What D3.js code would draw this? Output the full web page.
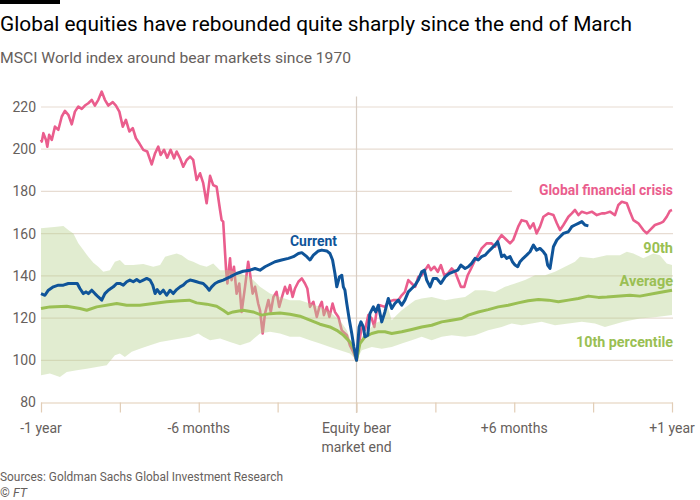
<!DOCTYPE html>
<html><head><meta charset="utf-8">
<script src="https://cdn.jsdelivr.net/npm/d3@7"></script>
<style>
html,body{margin:0;padding:0;background:#fff;}
svg{display:block;font-family:Roboto,"Open Sans",sans-serif;}
</style></head>
<body><svg id="c" width="700" height="500"></svg>
<script>
// ---- data (months relative to bear-market end, index level) ----
const xTicks = [-12,-9,-6,-3,0,3,6,9,12];
const xTickLabels = [["-12",["-1 year"]],["-6",["-6 months"]],["0",["Equity bear","market end"]],["6",["+6 months"]],["12",["+1 year"]]];
const yTicks = [80,100,120,140,160,180,200,220];

const gfc = [[-12,204.5],[-11.97,203.6],[-11.91,207.6],[-11.81,204.4],[-11.76,201.2],[-11.69,206.8],[-11.59,204.4],[-11.47,210.7],[-11.34,209.2],[-11.21,215.5],[-11.09,218.2],[-10.96,216.3],[-10.83,211.8],[-10.71,217.8],[-10.58,220.2],[-10.45,219.1],[-10.33,220.7],[-10.2,221.8],[-10.07,223.4],[-9.95,220.7],[-9.82,223.4],[-9.69,227.3],[-9.57,223.4],[-9.44,220.7],[-9.27,222.3],[-9.15,220.7],[-9.02,217.8],[-8.89,210.7],[-8.77,213.9],[-8.64,208.4],[-8.51,210],[-8.39,205.2],[-8.26,202.8],[-8.11,199.7],[-7.96,198.9],[-7.79,192.8],[-7.66,198.1],[-7.54,201.2],[-7.45,197.3],[-7.32,199.7],[-7.2,196],[-7.07,199.7],[-6.94,195.7],[-6.84,198.9],[-6.71,195.7],[-6.59,191.7],[-6.46,194.9],[-6.33,196.5],[-6.21,194.9],[-6.08,185.4],[-5.95,188.6],[-5.83,183.9],[-5.7,174.4],[-5.57,187.4],[-5.45,183],[-5.32,182.2],[-5.19,171.2],[-5.13,166.4],[-5.07,165.7],[-4.96,142.7],[-4.91,136.4],[-4.81,148.3],[-4.75,138],[-4.66,144.3],[-4.56,131.6],[-4.46,136.4],[-4.37,122.9],[-4.24,134.8],[-4.12,146.7],[-4.05,141.1],[-3.95,131.6],[-3.86,134.8],[-3.74,126.9],[-3.67,123.7],[-3.57,112.7],[-3.48,122.1],[-3.35,128.5],[-3.26,122.9],[-3.16,130],[-3.04,132.4],[-2.94,125.3],[-2.85,129.3],[-2.72,134.8],[-2.63,131.6],[-2.53,135.6],[-2.43,130],[-2.34,134],[-2.21,137.2],[-2.08,138.8],[-1.96,136.4],[-1.87,134],[-1.77,125.3],[-1.64,127.7],[-1.51,120.5],[-1.41,125.3],[-1.32,127.7],[-1.24,121.4],[-1.13,125.3],[-1.03,120.5],[-0.91,126.9],[-0.82,122.9],[-0.69,120.5],[-0.56,114.2],[-0.37,111.9],[-0.25,107.1],[-0.12,103.9],[0,100],[0.07,106.3],[0.2,115.8],[0.32,114.2],[0.45,121.4],[0.58,119.8],[0.68,115.8],[0.77,123.7],[0.89,126.1],[1.08,125.3],[1.21,127.7],[1.4,128.5],[1.59,128.5],[1.72,130.8],[1.84,132.4],[1.97,138],[2.1,136.4],[2.23,134.8],[2.35,139.5],[2.48,140.3],[2.61,142.7],[2.73,145.1],[2.83,142.7],[2.96,144.3],[3.09,141.9],[3.21,145.1],[3.34,140.3],[3.47,141.1],[3.62,143.5],[3.75,141.9],[3.87,138],[3.97,134.8],[4.1,134.8],[4.23,140.3],[4.36,143.5],[4.51,147.5],[4.63,149.8],[4.76,153],[4.95,155.4],[5.14,155.4],[5.27,153.8],[5.39,157],[5.52,159.3],[5.71,157],[5.84,155.4],[5.96,157],[6.15,163.3],[6.28,166.4],[6.47,165.7],[6.6,162.5],[6.73,164.9],[6.85,160.1],[6.98,163.3],[7.11,168],[7.3,169.6],[7.49,168.8],[7.62,164.9],[7.74,161.7],[7.87,164.1],[8.06,168],[8.19,169.6],[8.31,171.2],[8.44,168.8],[8.57,170.4],[8.76,169.6],[8.95,170.4],[9.14,168.8],[9.33,169.6],[9.45,169.6],[9.64,170.4],[9.83,168.8],[9.96,173.6],[10.09,175.1],[10.28,174.4],[10.4,170.4],[10.53,166.4],[10.72,164.9],[10.91,161.7],[11.04,160.1],[11.16,161.7],[11.35,164.1],[11.54,164.9],[11.67,165.7],[11.8,168],[11.92,170.8],[12,171.2]];

const current = [[-12,131.6],[-11.85,130.8],[-11.72,133.2],[-11.53,134.8],[-11.34,135.6],[-11.15,135.6],[-10.96,136.4],[-10.77,136.4],[-10.62,136.4],[-10.52,134],[-10.39,131.6],[-10.29,132.4],[-10.2,131.6],[-10.07,133.2],[-9.95,131.6],[-9.82,130],[-9.69,128.5],[-9.57,131.6],[-9.44,133.2],[-9.25,134.8],[-9.12,136.4],[-9,136.4],[-8.87,135.6],[-8.74,137.2],[-8.62,138],[-8.49,137.2],[-8.36,138.3],[-8.24,137.2],[-8.11,138],[-7.98,138.8],[-7.85,138],[-7.75,135.6],[-7.66,131.6],[-7.58,133.5],[-7.47,131.6],[-7.35,133.2],[-7.22,130.8],[-7.09,133.2],[-6.97,131.6],[-6.84,133.5],[-6.71,134.8],[-6.59,135.6],[-6.46,137.2],[-6.33,138],[-6.21,137.7],[-6.08,137.2],[-5.95,136.7],[-5.83,136.4],[-5.7,134.8],[-5.6,133.2],[-5.51,134.8],[-5.38,136.4],[-5.26,137.2],[-5.07,138],[-4.81,139.5],[-4.56,141.1],[-4.31,142.2],[-4.05,142.7],[-3.86,143.5],[-3.67,142.7],[-3.48,144.3],[-3.29,145.5],[-3.1,146.7],[-2.85,147.5],[-2.59,148.3],[-2.4,149.1],[-2.21,150.6],[-2.08,151],[-1.89,149.1],[-1.77,147.5],[-1.64,149.8],[-1.45,151.8],[-1.32,152.2],[-1.13,151.8],[-1.01,150.6],[-0.91,147.5],[-0.82,141.1],[-0.75,134.8],[-0.65,139.5],[-0.56,140.3],[-0.5,134.8],[-0.44,133.2],[-0.37,126.9],[-0.27,119],[-0.18,112.7],[-0.1,106.3],[0,100],[0.1,115.8],[0.17,118.2],[0.26,115.8],[0.32,111.1],[0.43,111.9],[0.51,122.1],[0.64,125.3],[0.73,122.9],[0.83,126.1],[0.96,118.2],[1.08,122.9],[1.21,129.3],[1.34,124.5],[1.46,126.9],[1.59,128.5],[1.72,126.1],[1.84,128.5],[1.97,132.4],[2.1,134],[2.23,135.6],[2.35,138],[2.48,141.9],[2.58,142.7],[2.67,138],[2.8,134.8],[2.92,138.8],[3.05,138.8],[3.21,136.4],[3.37,139.5],[3.52,141.1],[3.68,141.9],[3.85,142.7],[3.97,145.1],[4.13,143.5],[4.25,144.3],[4.38,145.9],[4.51,148.3],[4.63,147.5],[4.76,149.1],[4.89,149.8],[5.01,151.4],[5.14,153],[5.27,154.6],[5.37,156.2],[5.46,152.2],[5.52,149.1],[5.62,149.8],[5.71,148.3],[5.84,149.1],[5.93,146.7],[6.03,145.1],[6.13,144.3],[6.22,146.7],[6.34,148.3],[6.47,149.8],[6.6,151.4],[6.73,154.6],[6.85,152.2],[6.98,153],[7.11,151.4],[7.2,149.8],[7.27,145.1],[7.36,143.5],[7.49,153.8],[7.62,157],[7.74,158.5],[7.87,160.1],[8.06,160.9],[8.19,163.3],[8.31,164.1],[8.44,164.9],[8.57,165.7],[8.69,164.1],[8.82,163.7]];

const average = [[-12,124.5],[-11.66,125.3],[-11.02,125.6],[-10.52,124.5],[-10.26,123.7],[-9.88,125.3],[-9.12,126.9],[-8.74,126.1],[-8.24,126.1],[-7.73,126.9],[-7.22,127.7],[-6.71,128.2],[-6.36,128.5],[-6.08,127.2],[-5.7,126.6],[-5.32,125.6],[-5.07,123.7],[-4.88,122.1],[-4.69,122.9],[-4.31,123.7],[-3.93,122.9],[-3.61,121.4],[-3.29,122.1],[-2.91,122.4],[-2.53,121.8],[-2.15,120.9],[-1.77,119],[-1.39,117.1],[-1.01,115.8],[-0.75,114.2],[-0.5,111.9],[-0.25,108.7],[-0.1,105.5],[0,100],[0.13,107.9],[0.32,111.1],[0.58,112.7],[0.83,113.5],[1.08,113.5],[1.34,112.7],[1.72,113.5],[2.1,114.6],[2.48,115.8],[2.86,116.6],[3.24,118.2],[3.62,119],[4,119.8],[4.25,121.4],[4.63,122.9],[5.01,124],[5.39,125.3],[5.77,126.1],[6.15,127.2],[6.53,128.2],[6.92,128.8],[7.3,128.5],[7.68,127.7],[8.06,128.5],[8.44,129.3],[8.82,130.4],[9.2,129.8],[9.52,130],[10.4,130.8],[10.78,130.4],[11.42,131.9],[12,133.2]];

const pct90 = [[-12,162.5],[-11.4,163.3],[-11.15,163.6],[-10.96,161.7],[-10.77,160.1],[-10.58,155.4],[-10.39,152.2],[-10.2,149],[-10.01,146.2],[-9.82,144.3],[-9.63,141.9],[-9.38,142.7],[-9.19,146.7],[-9,147.5],[-8.81,145.1],[-8.49,145.1],[-8.11,145.6],[-7.73,144.3],[-7.47,145.1],[-7.28,149],[-7.09,149.8],[-6.84,150.6],[-6.65,149.8],[-6.4,147.5],[-6.21,146.7],[-5.95,145.1],[-5.7,144.3],[-5.45,145.9],[-5.19,142.7],[-4.81,142.7],[-4.43,141.1],[-4.05,139.5],[-3.67,134.8],[-3.29,131.6],[-2.91,130],[-2.53,128.5],[-2.15,128.5],[-1.77,126.9],[-1.39,125.3],[-1.01,122.9],[-0.63,119],[-0.37,114.2],[-0.12,106.3],[0,100],[0.2,111.1],[0.45,114.2],[0.7,117.4],[0.96,119],[1.15,126.9],[1.34,119],[1.53,121.4],[1.72,123.7],[1.97,126.1],[2.23,128.5],[2.48,129.3],[2.86,130],[3.37,128.5],[3.75,129.3],[4.13,130],[4.51,133.2],[4.89,133.2],[5.27,132.4],[5.65,134.8],[6.03,136.4],[6.41,138],[6.79,140.3],[7.17,140.3],[7.55,141.9],[7.93,144.3],[8.31,146.7],[8.5,149.1],[9.01,148.3],[9.52,149.8],[10.02,149.8],[10.28,151.4],[10.53,150.6],[10.91,148.3],[11.29,150.6],[11.54,149.8],[11.8,145.9],[12,145.1]];

const pct10 = [[-12,92.9],[-11.66,93.7],[-11.28,92.1],[-11.02,94.5],[-10.64,95.3],[-10.26,96],[-9.88,96.8],[-9.5,97.6],[-9.19,102.4],[-9,103.2],[-8.81,101.6],[-8.55,104],[-8.24,105.5],[-7.85,107.1],[-7.47,108.7],[-7.09,109.5],[-6.71,110.3],[-6.33,111.1],[-6.02,112.7],[-5.83,111.1],[-5.57,109.5],[-5.19,110.3],[-4.81,108.7],[-4.43,107.1],[-4.05,108.7],[-3.67,112.7],[-3.29,113.5],[-2.91,112.7],[-2.53,111.1],[-2.15,111.1],[-1.77,109.5],[-1.39,107.9],[-1.01,106.3],[-0.63,104.7],[-0.25,103.2],[0,100],[0.2,104.7],[0.58,106.3],[0.96,105.5],[1.34,106.3],[1.72,107.9],[2.1,109.5],[2.48,111.1],[2.86,109.5],[3.24,111.1],[3.62,111.9],[4.13,111.1],[4.51,111.9],[5.01,114.2],[5.52,115.8],[5.9,117.4],[6.28,116.6],[6.66,117.4],[7.04,118.2],[7.55,116.6],[8.06,117.4],[8.57,118.2],[9.07,117.4],[9.45,115.8],[10.15,118.2],[10.78,119.8],[11.42,120.5],[12,121.4]];

// ---- drawing ----
const svg = d3.select("#c");
const x = d3.scaleLinear().domain([-12,12]).range([41,672]);
const y = d3.scaleLinear().domain([80,220]).range([402.5,107]);
const ink = "#33302e", grey = "#66605c";

function fit(sel, w){
  const n = sel.node().getComputedTextLength();
  if (Math.abs(n-w) > 1) sel.attr("textLength", w).attr("lengthAdjust","spacingAndGlyphs");
  return sel;
}

// top bar
svg.append("rect").attr("x",0).attr("y",0).attr("width",60).attr("height",4).attr("fill","#000");
fit(svg.append("text").attr("x",0).attr("y",31).attr("font-size",21).attr("fill","#000")
  .text("Global equities have rebounded quite sharply since the end of March"), 632);
fit(svg.append("text").attr("x",0).attr("y",63).attr("font-size",15.5).attr("fill",grey)
  .text("MSCI World index around bear markets since 1970"), 351);

// gridlines
const g = svg.append("g");
g.selectAll("line.grid").data(yTicks.filter(d=>d>80)).join("line")
  .attr("x1",41).attr("x2",d=> d===180 ? 512 : 673)
  .attr("y1",d=>y(d)).attr("y2",d=>y(d))
  .attr("stroke","#e7dcd2").attr("stroke-width",1.2);
g.selectAll("text.yl").data(yTicks).join("text")
  .attr("x",36).attr("y",d=>y(d)).attr("dy","0.35em").attr("text-anchor","end")
  .attr("font-size",14).attr("fill",grey).text(d=>d);

// center vertical
g.append("line").attr("x1",x(0)).attr("x2",x(0)).attr("y1",y(225)).attr("y2",413)
  .attr("stroke","#d8cdc3").attr("stroke-width",1.2);

// x axis
const xa = svg.append("g").attr("transform",`translate(0,${y(80)})`)
  .call(d3.axisBottom(x).tickValues(xTicks).tickSize(10).tickFormat(""));
xa.select(".domain").attr("d",`M41,0.5H673`).attr("stroke","#e2cdb6").attr("stroke-width",1.2);
xa.selectAll(".tick line").attr("stroke","#e2cdb6").attr("stroke-width",1.2);
const tl = svg.append("g");
xTickLabels.forEach(([v,lines])=>{
  const t = tl.append("text").attr("x",x(+v)).attr("y",433).attr("text-anchor","middle")
    .attr("font-size",14).attr("fill",grey);
  lines.forEach((s,i)=> t.append("tspan").attr("x",x(+v)).attr("dy", i? 19:0).text(s));
});

const line = d3.line().x(d=>x(d[0])).y(d=>y(d[1]));

// GFC line (under the band)
svg.append("path").attr("d",line(gfc)).attr("fill","none").attr("stroke","#ea5d8d")
  .attr("stroke-width",2.6).attr("stroke-linejoin","round");

// band
svg.append("path").attr("d", line(pct90.concat(pct10.slice().reverse())) + "Z")
  .attr("fill","#b7d190").attr("fill-opacity",0.42);

// average
svg.append("path").attr("d",line(average)).attr("fill","none").attr("stroke","#9abf53")
  .attr("stroke-width",3).attr("stroke-linejoin","round");

// current
svg.append("path").attr("d",line(current)).attr("fill","none").attr("stroke","#0f5499")
  .attr("stroke-width",3).attr("stroke-linejoin","round");

// labels
function lab(txt, xx, yy, col, anchor, w){
  const t = svg.append("text").attr("x",xx).attr("y",yy).attr("text-anchor",anchor)
    .attr("font-size",14.5).attr("font-weight",700).attr("fill",col).text(txt);
  fit(t,w);
}
lab("Global financial crisis", 673, 195, "#ea5d8d", "end", 134);
lab("90th", 673, 253, "#9abf53", "end", 30);
lab("Average", 673, 286, "#9abf53", "end", 53);
lab("10th percentile", 673, 347, "#9abf53", "end", 97);
lab("Current", 313.5, 246, "#0f5499", "middle", 47);

// footer
fit(svg.append("text").attr("x",0).attr("y",481).attr("font-size",12.5).attr("fill",grey)
  .text("Sources: Goldman Sachs Global Investment Research"), 283);
const ft = svg.append("text").attr("x",0).attr("y",497).attr("font-size",12.5).attr("fill",grey);
ft.append("tspan").text("© ");
ft.append("tspan").attr("font-style","italic").text("FT");
</script></body></html>
